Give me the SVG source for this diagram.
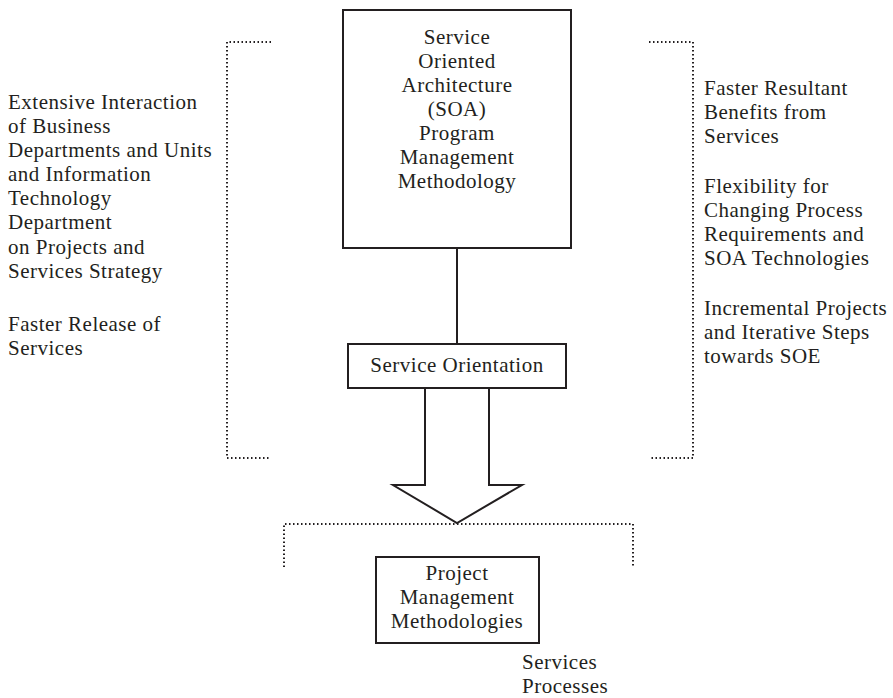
<svg xmlns="http://www.w3.org/2000/svg" width="893" height="698" viewBox="0 0 893 698">
  <style>
    text { font-family: "Liberation Serif", "DejaVu Serif", serif; font-size: 21px; letter-spacing: 0.5px; fill: #231f20; }
    .c { text-anchor: middle; }
    .box { fill: #ffffff; stroke: #231f20; stroke-width: 2; }
    .solid { fill: none; stroke: #231f20; stroke-width: 2; }
    .dots { fill: none; stroke: #231f20; stroke-width: 2; stroke-dasharray: 1.5 2.5; }
  </style>
  <rect width="893" height="698" fill="#ffffff"/>

  <!-- dotted brackets -->
  <g id="brackets">
    <polyline class="dots" points="271,42 227,42 227,458 271,458"/>
    <polyline class="dots" points="649,42 693,42 693,458 649,458"/>
    <polyline class="dots" points="284,567 284,524 633,524 633,567"/>
  </g>

  <!-- connectors -->
  <g id="connectors">
    <line class="solid" x1="457" y1="248" x2="457" y2="344"/>
    <path id="arrow" class="box" d="M425,388 L425,485 L393,485 L457,523 L522,485 L489,485 L489,388 Z"/>
  </g>

  <g id="soa-program">
    <rect class="box" x="343" y="10" width="228" height="238"/>
    <text class="c" x="457" y="44">Service</text>
    <text class="c" x="457" y="68">Oriented</text>
    <text class="c" x="457" y="92">Architecture</text>
    <text class="c" x="457" y="116">(SOA)</text>
    <text class="c" x="457" y="140">Program</text>
    <text class="c" x="457" y="164">Management</text>
    <text class="c" x="457" y="188">Methodology</text>
  </g>

  <g id="service-orientation">
    <rect class="box" x="348" y="344" width="218" height="44"/>
    <text class="c" x="457" y="372">Service Orientation</text>
  </g>

  <g id="project-management">
    <rect class="box" x="376" y="557" width="163" height="86"/>
    <text class="c" x="457" y="580">Project</text>
    <text class="c" x="457" y="604">Management</text>
    <text class="c" x="457" y="628">Methodologies</text>
  </g>

  <g id="left-benefits">
    <text x="8" y="109">Extensive Interaction</text>
    <text x="8" y="133">of Business</text>
    <text x="8" y="157">Departments and Units</text>
    <text x="8" y="181">and Information</text>
    <text x="8" y="205">Technology</text>
    <text x="8" y="229">Department</text>
    <text x="8" y="254">on Projects and</text>
    <text x="8" y="278">Services Strategy</text>
    <text x="8" y="331">Faster Release of</text>
    <text x="8" y="355">Services</text>
  </g>

  <g id="right-benefits">
    <text x="704" y="95">Faster Resultant</text>
    <text x="704" y="119">Benefits from</text>
    <text x="704" y="143">Services</text>
    <text x="704" y="193">Flexibility for</text>
    <text x="704" y="217">Changing Process</text>
    <text x="704" y="241">Requirements and</text>
    <text x="704" y="265">SOA Technologies</text>
    <text x="704" y="315">Incremental Projects</text>
    <text x="704" y="339">and Iterative Steps</text>
    <text x="704" y="363">towards SOE</text>
  </g>

  <g id="outputs">
    <text x="522" y="669">Services</text>
    <text x="522" y="693">Processes</text>
  </g>
</svg>
